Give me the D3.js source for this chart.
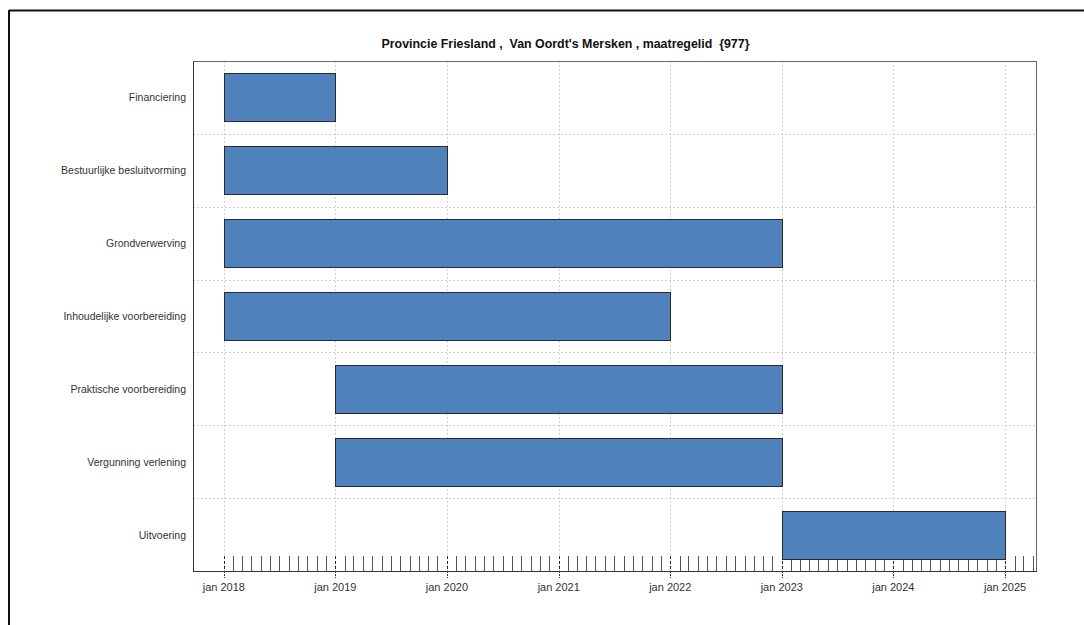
<!DOCTYPE html>
<html><head><meta charset="utf-8">
<script src="https://cdn.jsdelivr.net/npm/d3@7"></script>
<style>body{margin:0;background:#fff;} svg{display:block;font-family:"Liberation Sans",Arial,sans-serif;}</style>
</head><body><svg id="c" width="1084" height="625"></svg>
<script>
const title = "Provincie Friesland ,  Van Oordt's Mersken , maatregelid  {977}";
const tasks = ["Financiering","Bestuurlijke besluitvorming","Grondverwerving","Inhoudelijke voorbereiding","Praktische voorbereiding","Vergunning verlening","Uitvoering"];
const starts = ["2018-01-01","2018-01-01","2018-01-01","2018-01-01","2019-01-01","2019-01-01","2023-01-01"];
const ends   = ["2019-01-01","2020-01-01","2023-01-01","2022-01-01","2023-01-01","2023-01-01","2025-01-01"];
const xDomain = ["2017-09-22","2025-04-12"];
const yearTicks = ["2018-01-01","2019-01-01","2020-01-01","2021-01-01","2022-01-01","2023-01-01","2024-01-01","2025-01-01"];

const parse = d3.utcParse("%Y-%m-%d");
const svg = d3.select("#c");
const L=193, R=1036, T=61, B=571;

// outer frame
svg.append("line").attr("x1",9).attr("x2",1084).attr("y1",10.5).attr("y2",10.5).attr("stroke","#111").attr("stroke-width",2);
svg.append("line").attr("x1",9).attr("x2",9).attr("y1",10).attr("y2",625).attr("stroke","#111").attr("stroke-width",2);

const x = d3.scaleUtc().domain(xDomain.map(parse)).range([L,R]);
const y = d3.scaleBand().domain(tasks).range([T,B]).paddingInner(0).paddingOuter(0);

// title
svg.append("text").attr("x",565.5).attr("y",48).attr("text-anchor","middle")
  .style("white-space","pre").attr("xml:space","preserve")
  .attr("font-size",12.4).attr("font-weight","bold").attr("fill","#111").text(title);

// vertical year gridlines
svg.append("g").selectAll("line").data(yearTicks.map(parse)).join("line")
  .attr("x1",d=>Math.round(x(d))+0.5).attr("x2",d=>Math.round(x(d))+0.5)
  .attr("y1",T).attr("y2",B).attr("stroke","#d0d0d0").attr("stroke-dasharray","2,2");

// horizontal row separators
svg.append("g").selectAll("line").data(tasks.slice(1)).join("line")
  .attr("x1",L).attr("x2",R).attr("y1",d=>Math.round(y(d))+0.5).attr("y2",d=>Math.round(y(d))+0.5)
  .attr("stroke","#d0d0d0").attr("stroke-dasharray","2,2");

// monthly ticks inside
const months = d3.utcMonth.range(parse(yearTicks[0]), x.domain()[1]);
svg.append("g").selectAll("line").data(months).join("line")
  .attr("x1",d=>Math.round(x(d))+0.5).attr("x2",d=>Math.round(x(d))+0.5)
  .attr("y1",B-15).attr("y2",B)
  .attr("stroke",d=>d.getUTCMonth()===0?"#222":"#555")
  .attr("stroke-dasharray",d=>d.getUTCMonth()===0?"3,2":null);

// bars
const rows = tasks.map((t,i)=>({t, s:parse(starts[i]), e:parse(ends[i])}));
const bh = 48;
svg.append("g").selectAll("rect").data(rows).join("rect")
  .attr("x",d=>Math.round(x(d.s))+0.5).attr("width",d=>Math.round(x(d.e))-Math.round(x(d.s)))
  .attr("y",d=>Math.round(y(d.t)+y.bandwidth()/2-bh/2)+0.5).attr("height",bh)
  .attr("fill","#4F81BD").attr("stroke","#2a2a2a").attr("stroke-width",1);

// plot border
svg.append("rect").attr("x",L+0.5).attr("y",T+0.5).attr("width",R-L).attr("height",B-T)
  .attr("fill","none").attr("stroke","#666");
svg.append("line").attr("x1",L+0.5).attr("x2",L+0.5).attr("y1",T).attr("y2",B+1).attr("stroke","#333");
svg.append("line").attr("x1",L).attr("x2",R+1).attr("y1",B+0.5).attr("y2",B+0.5).attr("stroke","#333");

// x axis labels + outer ticks
const xa = svg.append("g").attr("transform",`translate(0,${B})`);
const ya = yearTicks.map(parse);
xa.selectAll("line").data(ya).join("line")
  .attr("x1",d=>Math.round(x(d))+0.5).attr("x2",d=>Math.round(x(d))+0.5)
  .attr("y1",0).attr("y2",7).attr("stroke","#333").attr("stroke-dasharray","2,1");
xa.selectAll("text").data(ya).join("text")
  .attr("x",d=>x(d)).attr("y",20).attr("text-anchor","middle")
  .attr("font-size",11).attr("fill","#333").text(d3.utcFormat("jan %Y"));

// y labels
svg.append("g").selectAll("text").data(tasks).join("text")
  .attr("x",L-7).attr("y",d=>y(d)+y.bandwidth()/2+4).attr("text-anchor","end")
  .attr("font-size",10.5).attr("fill","#333").text(d=>d);
</script></body></html>
